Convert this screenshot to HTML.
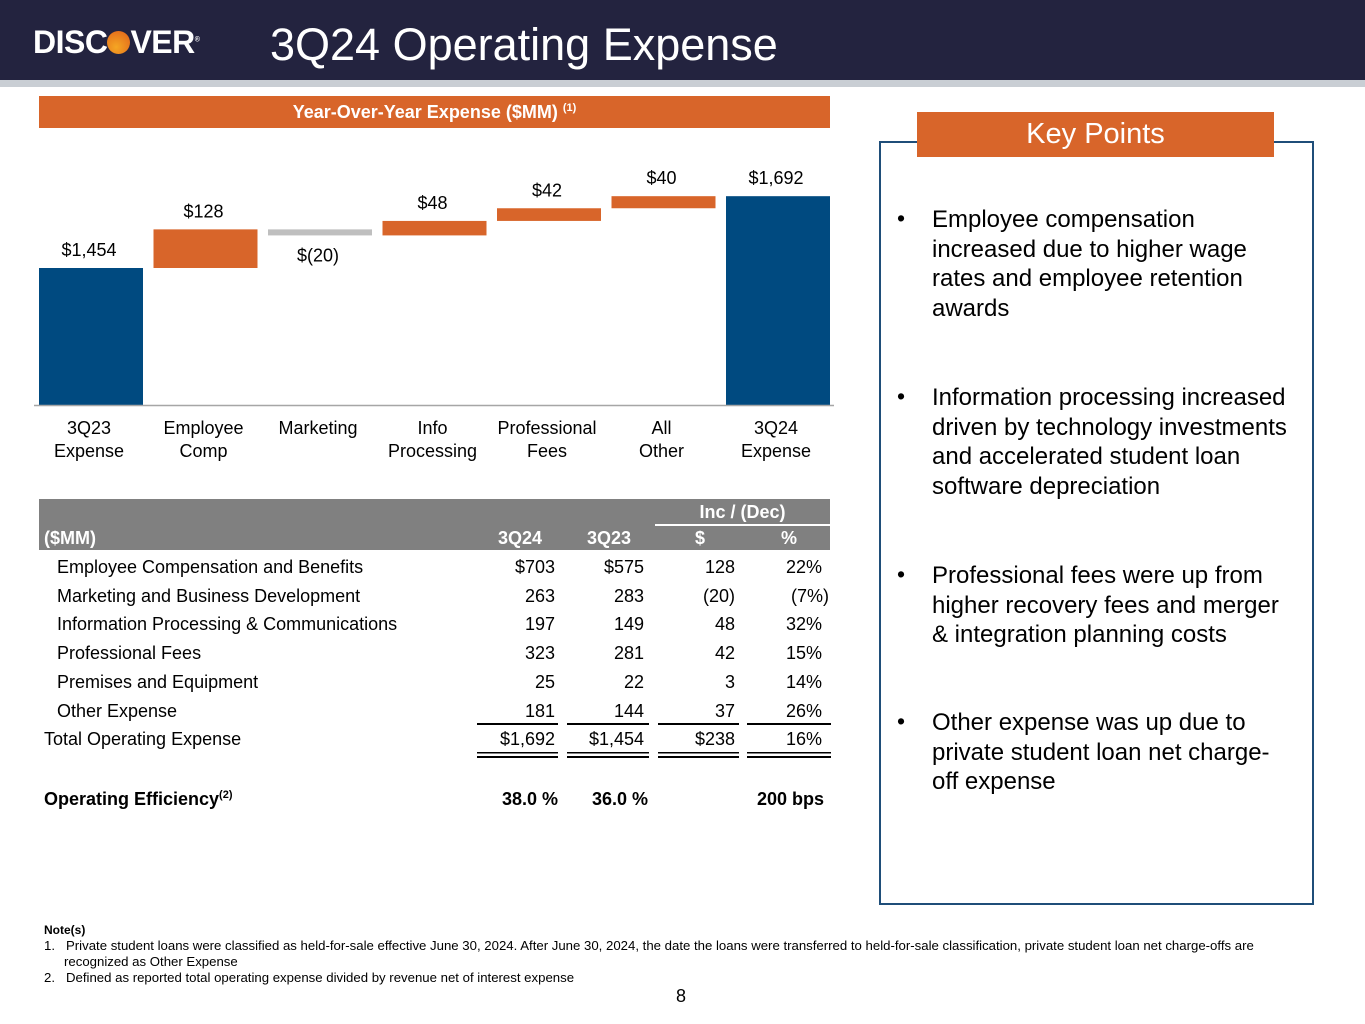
<!DOCTYPE html>
<html><head><meta charset="utf-8"><style>
body{margin:0;width:1365px;height:1024px;position:relative;background:#fff;font-family:"Liberation Sans",sans-serif;overflow:hidden}
.a{position:absolute;white-space:nowrap}
.r{text-align:right}
.t{font-size:18px;color:#000;line-height:20px}
.b{font-size:24px;line-height:29.6px;color:#000;position:absolute;left:932px;width:380px}
.dot{position:absolute;left:897px;font-size:23px}
sup{line-height:0}
</style></head><body>
<div class="a" style="left:0;top:0;width:1365px;height:80px;background:#23233f"></div>
<div class="a" style="left:0;top:80px;width:1365px;height:7px;background:#c9ced4"></div>
<div class="a" style="left:33px;top:24px;font-size:32px;font-weight:bold;color:#fff;letter-spacing:-0.5px">DISC<span style="display:inline-block;width:23px;height:23px;border-radius:50%;background:radial-gradient(circle at 40% 70%,#f5a623,#e0601a);vertical-align:-1px"></span>VER<sup style="font-size:7px">®</sup></div>
<div class="a" style="left:270px;top:19px;font-size:45px;color:#fff">3Q24 Operating Expense</div>

<div class="a" style="left:39px;top:96px;width:791px;height:32px;background:#d8652a;color:#fff;font-size:18px;font-weight:bold;text-align:center;line-height:33px">Year-Over-Year Expense ($MM) <sup style="font-size:11px">(1)</sup></div>

<svg class="a" style="left:0;top:0" width="860" height="480" id="chart"></svg>

<div class="a" style="left:39px;top:499px;width:791px;height:51px;background:#808080"></div>
<div class="a" style="left:655px;top:524px;width:175px;height:2px;background:#fff"></div>
<div class="a t" style="left:655px;top:502px;width:175px;text-align:center;color:#fff;font-weight:bold">Inc / (Dec)</div>
<div class="a t" style="left:44px;top:528px;color:#fff;font-weight:bold">($MM)</div>
<div class="a t r" style="left:440px;width:102px;top:528px;color:#fff;font-weight:bold">3Q24</div>
<div class="a t r" style="left:530px;width:101px;top:528px;color:#fff;font-weight:bold">3Q23</div>
<div class="a t r" style="left:600px;width:105px;top:528px;color:#fff;font-weight:bold">$</div>
<div class="a t r" style="left:700px;width:97px;top:528px;color:#fff;font-weight:bold">%</div>
<div id="rows"></div>
<div class="a" style="left:477px;top:723px;width:354px;height:2px;background:linear-gradient(90deg,#000 0 81px,transparent 81px 90px,#000 90px 172px,transparent 172px 181px,#000 181px 262px,transparent 262px 270px,#000 270px)"></div>
<div class="a" style="left:477px;top:752px;width:354px;height:6px;background:linear-gradient(90deg,#000 0 81px,transparent 81px 90px,#000 90px 172px,transparent 172px 181px,#000 181px 262px,transparent 262px 270px,#000 270px);-webkit-mask:linear-gradient(#000 0 1.5px,transparent 1.5px 4px,#000 4px)"></div>
<div class="a t" style="left:44px;top:789px;font-weight:bold">Operating Efficiency<sup style="font-size:11px">(2)</sup></div>
<div class="a t r" style="left:440px;width:118px;top:789px;font-weight:bold">38.0 %</div>
<div class="a t r" style="left:530px;width:118px;top:789px;font-weight:bold">36.0 %</div>
<div class="a t r" style="left:700px;width:124px;top:789px;font-weight:bold">200 bps</div>

<div class="a" style="left:879px;top:141px;width:431px;height:760px;border:2px solid #1f4e79"></div>
<div class="a" style="left:917px;top:112px;width:357px;height:45px;background:#d8652a;color:#fff;font-size:29px;text-align:center;line-height:44px">Key Points</div>
<div class="dot" style="top:205px">•</div><div class="b" style="top:205px">Employee compensation<br>increased due to higher wage<br>rates and employee retention<br>awards</div>
<div class="dot" style="top:383px">•</div><div class="b" style="top:383px">Information processing increased<br>driven by technology investments<br>and accelerated student loan<br>software depreciation</div>
<div class="dot" style="top:561px">•</div><div class="b" style="top:561px">Professional fees were up from<br>higher recovery fees and merger<br>&amp; integration planning costs</div>
<div class="dot" style="top:708px">•</div><div class="b" style="top:708px">Other expense was up due to<br>private student loan net charge-<br>off expense</div>

<div class="a" style="left:44px;top:922px;font-size:13.2px;line-height:16px;color:#000"><b style="font-size:12px">Note(s)</b><br>1.&nbsp;&nbsp;&nbsp;Private student loans were classified as held-for-sale effective June 30, 2024. After June 30, 2024, the date the loans were transferred to held-for-sale classification, private student loan net charge-offs are<br><span style="padding-left:20px">recognized as Other Expense</span><br>2.&nbsp;&nbsp;&nbsp;Defined as reported total operating expense divided by revenue net of interest expense</div>
<div class="a" style="left:676px;top:986px;font-size:18px">8</div>

<script>
const categories=["3Q23|Expense","Employee|Comp","Marketing","Info|Processing","Professional|Fees","All|Other","3Q24|Expense"];
const values=[1454,128,-20,48,42,40,1692];
const valueLabels=["$1,454","$128","$(20)","$48","$42","$40","$1,692"];
const axisMin=1000;
const rowLabels=["Employee Compensation and Benefits","Marketing and Business Development","Information Processing & Communications","Professional Fees","Premises and Equipment","Other Expense","Total Operating Expense"];
const col3Q24=["$703","263","197","323","25","181","$1,692"];
const col3Q23=["$575","283","149","281","22","144","$1,454"];
const colDollar=["128","(20)","48","42","3","37","$238"];
const colPct=["22%","(7%)","32%","15%","14%","26%","16%"];

const NS="http://www.w3.org/2000/svg",svg=document.getElementById('chart');
const base=405,k=137/454,x0=39,step=114.5,bw=104;
const y=v=>base-(v-axisMin)*k;
function mk(t,a){const e=document.createElementNS(NS,t);for(const n in a)e.setAttribute(n,a[n]);svg.appendChild(e);return e;}
let run=0;
values.forEach((v,i)=>{
  const x=x0+i*step;let top,bot,fill;
  if(i===0||i===values.length-1){top=y(v);bot=base;fill="#004a80";run=v;}
  else{const a=run,b=run+v;top=y(Math.max(a,b));bot=y(Math.min(a,b));fill=v<0?"#bfbfbf":"#d8652a";run=b;}
  const r=mk('rect',{x:x,y:top,width:bw,height:bot-top,fill:fill});
  
  
  const ly=v<0?bot+26:top-12;
  const t=mk('text',{x:x+bw/2-2,y:ly,'text-anchor':'middle','font-size':18,'font-family':'Liberation Sans'});
  t.textContent=valueLabels[i];
  
  
  categories[i].split('|').forEach((s,j)=>{
    const c=mk('text',{x:x+bw/2-2,y:434+j*23,'text-anchor':'middle','font-size':18,'font-family':'Liberation Sans'});
    c.textContent=s;
    
    
  });
});
const ax=mk('line',{x1:34,x2:834,y1:base+0.5,y2:base+0.5,stroke:'#a6a6a6','stroke-width':1.5});



const rows=document.getElementById('rows');
function cell(txt,left,w,top,right,name){const d=document.createElement('div');d.className='a t'+(right?' r':'');d.style.left=left+'px';d.style.top=top+'px';if(w)d.style.width=w+'px';d.textContent=txt;
  
  
  rows.appendChild(d);}
rowLabels.forEach((l,i)=>{
  const top=557+i*28.7;
  cell(l,i===6?44:57,0,top,false,'row-label');
  cell(col3Q24[i],440,115,top,true,'cell-3q24');
  cell(col3Q23[i],530,114,top,true,'cell-3q23');
  cell(colDollar[i],600,135,top,true,'cell-dollar');
  cell(colPct[i],700,i===1?129:122,top,true,'cell-pct');
});
</script>
</body></html>
